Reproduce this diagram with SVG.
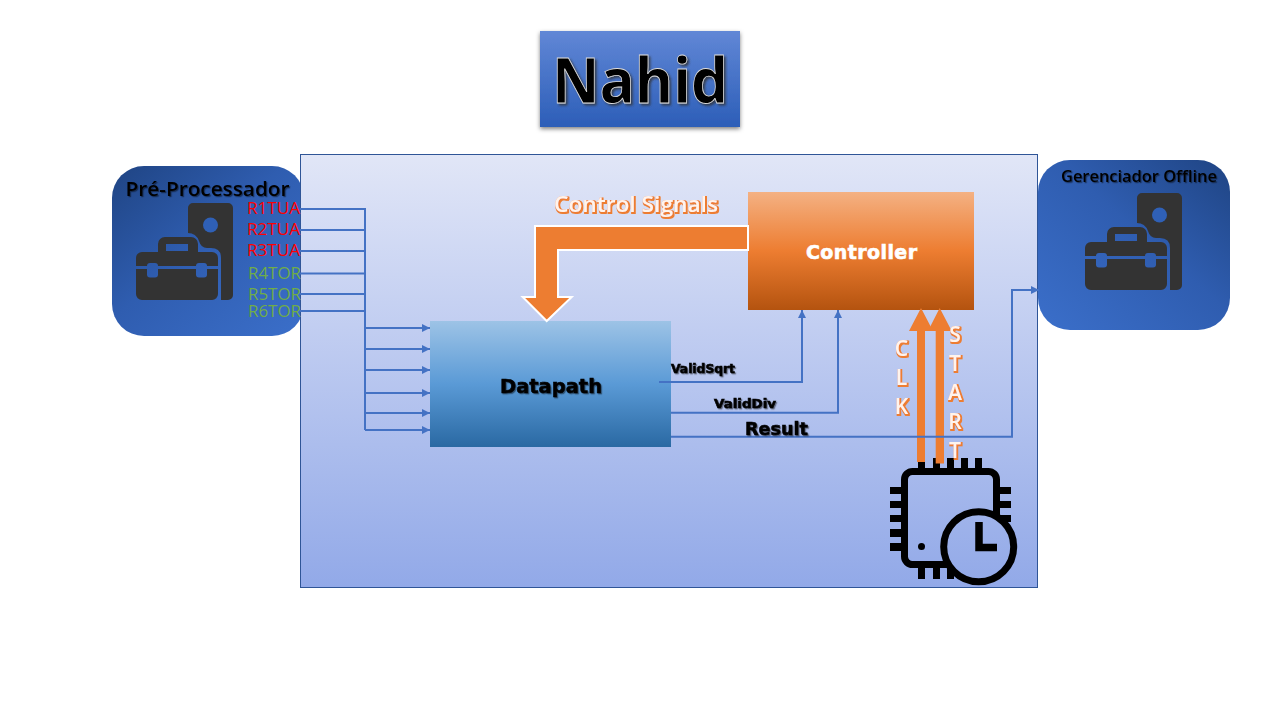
<svg xmlns="http://www.w3.org/2000/svg" width="1280" height="720" viewBox="0 0 1280 720">
<style>
text{font-family:"Open Sans","Noto Sans","Liberation Sans",sans-serif}
.cable{fill:none;stroke:#4472c4;stroke-width:2}
.arr{marker-end:url(#tip)}
.sig{font-size:16.5px;font-weight:500}
.red{fill:#ff0000}
.grn{fill:#70ad47}
.head{fill:#000;font-weight:600;filter:url(#soft)}
.fancy{font-family:"DejaVu Sans","Liberation Sans",sans-serif;font-weight:700;fill:#000;stroke:#000;stroke-width:.6;filter:url(#soft)}
.glow{fill:#fff4ec;font-weight:600;filter:url(#edge)}
.thick{fill:#ed7d31}
.pin{fill:#000}
.dark{fill:#333}
</style>
<defs>
<linearGradient id="bg" gradientUnits="userSpaceOnUse" x1="0" y1="155" x2="0" y2="587"><stop offset="0" stop-color="#e1e6f7"/><stop offset="1" stop-color="#92a9e8"/></linearGradient>
<linearGradient id="tgrad" x1="0" y1="0" x2="0" y2="1"><stop offset="0" stop-color="#6187d6"/><stop offset="1" stop-color="#2c5eb8"/></linearGradient>
<linearGradient id="lbox" x1="0" y1="0" x2="1" y2="1"><stop offset="0" stop-color="#1f4483"/><stop offset=".45" stop-color="#2f5db0"/><stop offset="1" stop-color="#3b6fca"/></linearGradient>
<linearGradient id="rbox" x1="1" y1="0" x2="0" y2="1"><stop offset="0" stop-color="#1f4483"/><stop offset=".45" stop-color="#2f5db0"/><stop offset="1" stop-color="#3b6fca"/></linearGradient>
<linearGradient id="dp" x1="0" y1="0" x2="0" y2="1"><stop offset="0" stop-color="#9dc3e6"/><stop offset=".5" stop-color="#5a9ad6"/><stop offset="1" stop-color="#2a69a3"/></linearGradient>
<linearGradient id="ctl" x1="0" y1="0" x2="0" y2="1"><stop offset="0" stop-color="#f4b183"/><stop offset=".5" stop-color="#ed7d31"/><stop offset="1" stop-color="#b4530f"/></linearGradient>
<marker id="tip" markerUnits="userSpaceOnUse" markerWidth="9" markerHeight="9" refX="8" refY="4" orient="auto"><path d="M0,0L8,4L0,8z" fill="#4472c4"/></marker>
<filter id="soft" x="-10%" y="-30%" width="125%" height="170%"><feDropShadow dx="1.2" dy="1.2" stdDeviation=".7" flood-color="#000" flood-opacity=".45"/></filter>
<filter id="edge" x="-10%" y="-20%" width="120%" height="145%"><feMorphology in="SourceAlpha" operator="dilate" radius="1" result="d"/><feOffset in="d" dx=".5" dy=".6" result="o"/><feGaussianBlur in="o" stdDeviation=".25" result="b"/><feFlood flood-color="#ed7d31"/><feComposite in2="b" operator="in" result="c"/><feMerge><feMergeNode in="c"/><feMergeNode in="SourceGraphic"/></feMerge></filter>
<filter id="boxsh" x="-5%" y="-5%" width="110%" height="115%"><feDropShadow dx="0" dy="2" stdDeviation="2" flood-color="#000" flood-opacity=".5"/></filter>
<filter id="nsh" x="-5%" y="-10%" width="112%" height="125%"><feDropShadow dx="2" dy="2" stdDeviation="1" flood-color="#333" flood-opacity=".75"/></filter>
<mask id="cut" maskUnits="userSpaceOnUse" x="130" y="230" width="95" height="75"><rect x="130" y="230" width="95" height="75" fill="#fff"/><rect x="130" y="266" width="95" height="3" fill="#000"/><rect x="147" y="263" width="11" height="14.500" rx="3" fill="#000"/><rect x="196" y="263" width="11" height="14.500" rx="3" fill="#000"/><rect x="166" y="244" width="22" height="7" fill="#000"/></mask>
<g id="kit">
<path class="dark" d="M193,203H228a5,5 0 0 1 5,5V295a5,5 0 0 1-5,5H221V258Q221,248 211,248H207Q201,248 199,241Q196,233 188,233V208a5,5 0 0 1 5-5z"/>
<circle cx="210.500" cy="225" r="7.500" fill="#2f60b6"/>
<path class="dark" mask="url(#cut)" d="M165,237H191a7,7 0 0 1 7,7V252H212a6,6 0 0 1 6,6V294a6,6 0 0 1-6,6H142a6,6 0 0 1-6-6V258a6,6 0 0 1 6-6H158V244a7,7 0 0 1 7-7z"/>
</g>
</defs>
<rect width="1280" height="720" fill="#fff"/>
<g id="title"><rect x="540" y="31" width="200" height="96" fill="url(#tgrad)" filter="url(#boxsh)"/>
<text x="640" y="102.500" text-anchor="middle" font-size="62" font-weight="700" fill="#000" stroke="#ddd" stroke-width=".8" textLength="176" lengthAdjust="spacingAndGlyphs" filter="url(#nsh)">Nahid</text></g>
<g id="preprocessor"><rect x="112" y="166" width="192" height="170" rx="32" fill="url(#lbox)"/><use href="#kit"/></g>
<rect id="system" x="300.500" y="154.500" width="737" height="433" fill="url(#bg)" stroke="#2f5597" stroke-width="1"/>
<g id="pre-text"><text x="207.500" y="196" text-anchor="middle" font-size="19" class="head" textLength="164" lengthAdjust="spacingAndGlyphs">Pré-Processador</text>
<text class="sig red" x="247" y="214" textLength="53" lengthAdjust="spacingAndGlyphs">R1TUA</text>
<text class="sig red" x="247" y="235" textLength="53" lengthAdjust="spacingAndGlyphs">R2TUA</text>
<text class="sig red" x="247" y="256" textLength="53" lengthAdjust="spacingAndGlyphs">R3TUA</text>
<text class="sig grn" x="248" y="279" textLength="53" lengthAdjust="spacingAndGlyphs">R4TOR</text>
<text class="sig grn" x="248" y="300" textLength="53" lengthAdjust="spacingAndGlyphs">R5TOR</text>
<text class="sig grn" x="248" y="317" textLength="53" lengthAdjust="spacingAndGlyphs">R6TOR</text></g>
<g id="offline"><rect x="1038" y="160" width="192" height="170" rx="32" fill="url(#rbox)"/><use href="#kit" transform="translate(949,-10)"/>
<text x="1139" y="182" text-anchor="middle" font-size="16" class="head" textLength="156" lengthAdjust="spacingAndGlyphs">Gerenciador Offline</text></g>
<g id="datapath"><rect x="430" y="321" width="241" height="126" fill="url(#dp)"/>
<text class="fancy" x="551" y="393" text-anchor="middle" font-size="20" textLength="102" lengthAdjust="spacingAndGlyphs">Datapath</text></g>
<g id="controller"><rect x="748" y="192" width="226" height="118" fill="url(#ctl)"/>
<text x="861.500" y="259" text-anchor="middle" font-size="19" font-weight="700" fill="#fff" stroke="#fff" stroke-width=".6" style="font-family:'DejaVu Sans',sans-serif" textLength="111" lengthAdjust="spacing">Controller</text></g>
<g id="clock">
<rect x="904.500" y="471.500" width="92" height="93" rx="8" fill="none" stroke="#000" stroke-width="7"/>
<g class="pin"><rect x="918" y="458" width="7" height="11"/><rect x="933" y="458" width="7" height="11"/><rect x="947" y="458" width="7" height="11"/><rect x="961" y="458" width="7" height="11"/><rect x="975" y="458" width="7" height="11"/>
<rect x="890" y="487" width="11" height="7"/><rect x="890" y="501" width="11" height="7"/><rect x="890" y="515" width="11" height="7"/><rect x="890" y="529" width="11" height="8"/><rect x="890" y="543" width="11" height="8"/>
<rect x="1000" y="487" width="11" height="7"/><rect x="1000" y="501" width="11" height="7"/><rect x="1000" y="515" width="11" height="7"/>
<rect x="918" y="568" width="7" height="11"/><rect x="933" y="568" width="7" height="11"/><rect x="947" y="568" width="7" height="11"/></g>
<circle cx="921.500" cy="546.500" r="3.500"/>
<circle cx="978.700" cy="546.700" r="35" fill="url(#bg)" stroke="#000" stroke-width="7"/>
<path d="M979,522V547.500H997" fill="none" stroke="#000" stroke-width="7.500"/>
</g>
<g id="connectors">
<path class="thick" id="control-arrow" d="M535,226H748V250H558V297H571.700L546.700,321L522.700,297H535z" stroke="#fff" stroke-width="2"/>
<path class="thick" d="M917,462V331H909L921,308L933,331H925V462z"/>
<path class="thick" d="M935.700,463.500V331H928L939.700,308L951.700,331H944V463.500z"/>
<g class="cable">
<path d="M300,209H365V430M300,230H365M300,251H365M300,273.500H365M300,294H365M300,311H365"/>
<path class="arr" d="M365,328H430"/><path class="arr" d="M365,349H430"/><path class="arr" d="M365,370H430"/><path class="arr" d="M365,393H430"/><path class="arr" d="M365,413H430"/><path class="arr" d="M365,430H430"/>
<path class="arr" d="M659,382H802V310"/><path class="arr" d="M671,412.700H838V310"/><path class="arr" d="M671,436.700H1012V290H1039"/>
</g></g>
<g id="labels">
<text class="glow" x="636" y="212" text-anchor="middle" font-size="22" textLength="164" lengthAdjust="spacingAndGlyphs">Control Signals</text>
<g font-size="21" text-anchor="middle"><text class="glow" x="901.500" y="356">C</text><text class="glow" x="901.500" y="385">L</text><text class="glow" x="901.500" y="414">K</text>
<text class="glow" x="955" y="342">S</text><text class="glow" x="955" y="371">T</text><text class="glow" x="955" y="400">A</text><text class="glow" x="955" y="429">R</text><text class="glow" x="955" y="458">T</text></g>
<text class="fancy" x="671" y="373" font-size="12" textLength="64" lengthAdjust="spacingAndGlyphs">ValidSqrt</text>
<text class="fancy" x="714" y="408" font-size="12" textLength="62" lengthAdjust="spacingAndGlyphs">ValidDiv</text>
<text class="fancy" x="745" y="435" font-size="18" textLength="63" lengthAdjust="spacingAndGlyphs">Result</text>
</g>
</svg>
